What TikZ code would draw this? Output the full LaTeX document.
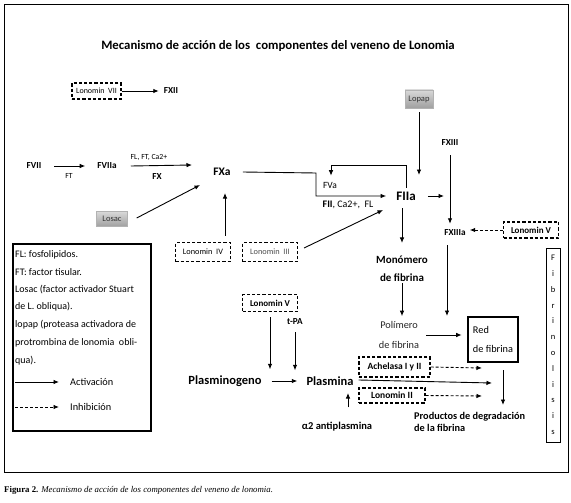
\documentclass[tikz,border=0pt]{standalone}
\usepackage{fontspec}
\setmainfont{Carlito}
\newfontfamily\capfont{Liberation Serif}
\usetikzlibrary{arrows.meta}
\begin{document}
\begin{tikzpicture}[x=1pt,y=-1pt,
  every node/.style={inner sep=1pt, font=\fontsize{8}{9}\selectfont},
  act/.style={draw, line width=0.9pt, -{Latex[length=5.5pt,width=4.5pt]}},
  inh/.style={act, dash pattern=on 3pt off 2pt},
  dbox/.style={draw, line width=1.1pt, dash pattern=on 3.2pt off 2pt, minimum height=16pt, inner sep=2pt},
  sm/.style={font=\bfseries\fontsize{9.2}{11}\selectfont},
  rg/.style={font=\fontsize{7.8}{9}\selectfont},
  big/.style={font=\bfseries\fontsize{12.5}{14}\selectfont},
  lg/.style={anchor=west, font=\fontsize{10}{11}\selectfont},
  shade/.style={draw=gray!60, top color=gray!30, bottom color=gray!75, text=black!80, inner sep=2pt, font=\fontsize{8.5}{9}\selectfont},
]
\useasboundingbox (0,0) rectangle (571,503);
\fill[white] (0,0) rectangle (571,503);
\draw[line width=1pt] (4,5) rectangle (568,472);

% title
\node[font=\bfseries\fontsize{12.8}{14}\selectfont] (title) at (278,46) {Mecanismo de acción de los\ \ componentes del veneno de Lonomia};

% top row
\node[dbox, minimum width=49pt, font=\fontsize{8}{9}\selectfont] (ln7) at (96.5,91) {Lonomin\ \ VII};
\node[sm] (fxii) at (171,91) {FXII};
\draw[act, shorten >=4pt] (ln7) -- (fxii);

\node[shade, minimum width=28pt, minimum height=18pt] (lopap) at (419,99) {Lopap};
\node[sm] (fxiii) at (450,143) {FXIII};

% FVII chain
\node[sm] (fvii) at (34,166) {FVII};
\node[sm] (fviia) at (107,166) {FVIIa};
\node[rg] (ft) at (69,176) {FT};
\node[rg] (flftca) at (149,157) {FL, FT, Ca2+};
\node[sm] (fx) at (157,177) {FX};
\node[font=\bfseries\fontsize{11.5}{13}\selectfont] (fxa) at (222,172) {FXa};
\coordinate (cFX) at (192,165);
\draw[act, shorten <=12pt, shorten >=11pt] (fvii) -- (fviia);
\draw[act] ([xshift=13pt]fviia.east) -- (cFX);

\node[shade, minimum width=31pt, minimum height=15pt] (losac) at (112,219) {Losac};
\coordinate (cLos) at (200,185);
\draw[act] ([xshift=9pt,yshift=1pt]losac.east) -- (cLos);

% FIIa region
\node[font=\bfseries\fontsize{13}{15}\selectfont] (fiia) at (406,196) {FIIa};
\node[font=\fontsize{9.5}{11}\selectfont] (fva) at (330,185) {FVa};
\node[font=\fontsize{10}{11}\selectfont] (cof) at (348,205) {\textbf{FII}, Ca2+,\ \ FL};
\coordinate (lopEnd) at (419,175);
\draw[act] ([yshift=-4pt]lopap.south) -- (lopEnd);
\coordinate (e1) at (316,173);
\draw[act] ([xshift=11pt]fxa.east) -- (e1) |- ([xshift=-9pt]fiia.west);
\coordinate (fb) at (331,165);
\draw[act] ([yshift=3pt]fiia.north) |- (fb) -- ([yshift=5pt]fva.north -| fb);
\coordinate (c4) at (444,194);
\draw[act] ([xshift=11pt]fiia.east) -- (fiia.east -| c4);

\node[sm] (fxiiia) at (455,233) {FXIIIa};
\draw[act, shorten <=8pt, shorten >=5pt] (fxiii.south) -- (fxiii.south |- fxiiia.north);
\node[dbox, minimum width=55pt, font=\bfseries\fontsize{9}{10}\selectfont] (ln5r) at (531,230) {Lonomin V};
\draw[inh, shorten >=3pt] (ln5r.west) -- (ln5r.west -| fxiiia.east);

\node[dbox, minimum width=55pt, minimum height=19pt, font=\fontsize{8.3}{9}\selectfont] (ln4) at (203,252) {Lonomin\ \ IV};
\node[dbox, minimum width=55pt, minimum height=19pt, font=\fontsize{8.3}{9}\selectfont, text=black!70] (ln3) at (270,252) {Lonomin\ \ III};
\coordinate (c4b) at (225,193);
\draw[act] ([yshift=6pt]ln4.north -| c4b) -- (c4b);
\coordinate (c3) at (383,210);
\draw[act] ([xshift=6pt,yshift=4pt]ln3.east) -- (c3);

% fibrin
\node[font=\bfseries\fontsize{11}{18}\selectfont, align=center] (mono) at (402,269) {Monómero\\de fibrina};
\node[font=\fontsize{10.3}{20}\selectfont, align=center, text=black!85] (poly) at (399,335) {Polímero\\de fibrina};
\node[draw, line width=2.6pt, minimum width=50pt, minimum height=45pt, align=left, font=\fontsize{10.3}{19}\selectfont, inner sep=4pt] (red) at (493,339.5) {Red\\de fibrina};
\draw[act, shorten <=7pt] (fiia.south -| mono.north) -- ([yshift=12pt]mono.north);
\draw[act, shorten >=4pt] (mono.south) -- (mono.south |- poly.north);
\coordinate (c5) at (447,316);
\draw[act] ([yshift=-8pt]fxiiia.south -| c5) -- (c5);
\draw[act, shorten <=6pt, shorten >=5pt] (poly.east) -- (poly.east -| red.west);

\node[draw, line width=0.8pt, minimum width=14pt, minimum height=194pt, align=center, inner sep=1pt, font=\fontsize{8.5}{15.8}\selectfont] (fibri) at (553,345) {F\\i\\b\\r\\i\\n\\o\\l\\i\\s\\i\\s};

% legend
\node[draw, line width=2.6pt, minimum width=138pt, minimum height=187pt] (legend) at (82,337.5) {};
\node[lg] (l1) at (14,255) {FL: fosfolipidos.};
\node[lg] (l2) at (14,272) {FT: factor tisular.};
\node[lg] (l3) at (14,289.5) {Losac (factor activador Stuart};
\node[lg] (l4) at (14,307) {de L. obliqua).};
\node[lg] (l5) at (14,325) {lopap (proteasa activadora de};
\node[lg] (l6) at (14,343) {protrombina de lonomia\ \ obli-};
\node[lg] (l7) at (14,361) {qua).};
\node[anchor=west, font=\fontsize{10.3}{12}\selectfont] (lact) at (69,382) {Activación};
\node[anchor=west, font=\fontsize{10.3}{12}\selectfont] (linh) at (69,407) {Inhibición};
\coordinate (la) at (15,382);
\coordinate (li) at (15,407);
\draw[act] (la) -- ([xshift=-10pt]lact.west);
\draw[inh] (li) -- ([xshift=-10pt]linh.west);

% plasmin
\node[dbox, minimum width=55pt, minimum height=17pt, font=\bfseries\fontsize{9}{10}\selectfont] (ln5m) at (270,303) {Lonomin V};
\node[sm] (tpa) at (295,322) {t-PA};
\node[big] (plgn) at (225,381) {Plasminogeno};
\node[big] (plsm) at (330,381) {Plasmina};
\draw[act, shorten <=5pt, shorten >=5pt] (ln5m.south) -- (ln5m.south |- plgn.north);
\draw[act, shorten <=6pt, shorten >=5pt] (tpa.south) -- (tpa.south |- plsm.north);
\draw[act, shorten <=9pt, shorten >=8pt] (plgn) -- (plsm);
\node[font=\bfseries\fontsize{10.5}{12}\selectfont] (alpha) at (337,427) {α2 antiplasmina};
\coordinate (c7) at (348,393);
\draw[act] ([yshift=14pt]alpha.north -| c7) -- (c7);

\node[dbox, minimum width=71pt, minimum height=20pt, font=\bfseries\fontsize{9.5}{10}\selectfont] (ach) at (394.5,367) {Achelasa I y II};
\node[dbox, minimum width=66pt, minimum height=15pt, font=\bfseries\fontsize{9.5}{10}\selectfont] (ln2) at (392,395.5) {Lonomin II};
\coordinate (c9) at (482,368);
\coordinate (c10) at (482,396);
\coordinate (c8) at (492,383);
\draw[inh] (ach.east) -- (c9);
\draw[inh] (ln2.east) -- (c10);
\draw[act] ([xshift=4pt,yshift=1pt]plsm.east) -- (c8);

\node[anchor=west, align=left, font=\bfseries\fontsize{10.3}{12.5}\selectfont] (prod) at (413,422) {Productos de degradación\\de la fibrina};
\coordinate (c6) at (503,405);
\draw[act] ([yshift=-7pt]red.south -| c6) -- (c6);

% caption
\node[anchor=west, inner sep=0pt, font=\capfont\fontsize{8.8}{9}\selectfont] (cap) at (4,490) {\textbf{Figura 2.} \textit{Mecanismo de acción de los componentes del veneno de lonomia.}};
\end{tikzpicture}
\end{document}
